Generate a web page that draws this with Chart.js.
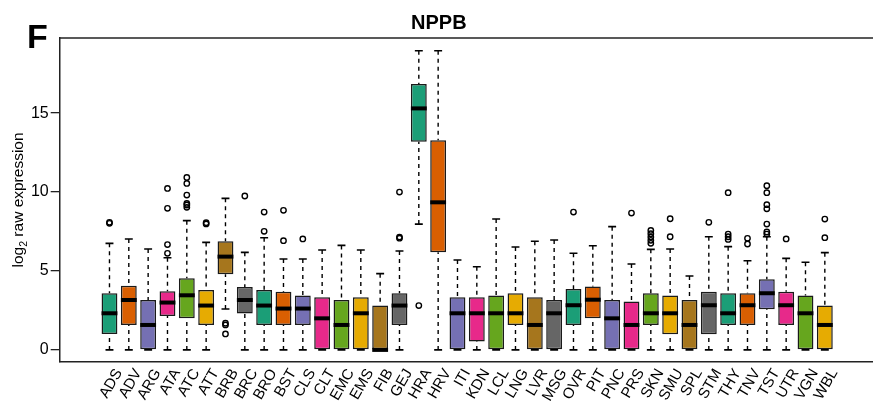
<!DOCTYPE html>
<html>
<head>
<meta charset="utf-8">
<title>NPPB</title>
<script src="https://cdn.jsdelivr.net/npm/chart.js@4.4.0/dist/chart.umd.min.js"></script>
<style>
  html, body { margin: 0; padding: 0; background: #fff; overflow: hidden; }
  #wrap { width: 880px; height: 404px; }
</style>
</head>
<body>
<div id="wrap"><canvas id="nppb" width="880" height="404"></canvas></div>
<script>
// tissue codes, one box each
var categories = ['ADS', 'ADV', 'ARG', 'ATA', 'ATC', 'ATT', 'BRB', 'BRC', 'BRO', 'BST',
    'CLS', 'CLT', 'EMC', 'EMS', 'FIB', 'GEJ', 'HRA', 'HRV', 'ITI', 'KDN',
    'LCL', 'LNG', 'LVR', 'MSG', 'OVR', 'PIT', 'PNC', 'PRS', 'SKN', 'SMU',
    'SPL', 'STM', 'THY', 'TNV', 'TST', 'UTR', 'VGN', 'WBL'];

// box stats (log2 raw expression)
var whiskerHigh = [6.75, 7.03, 6.39, 5.84, 8.19, 6.81, 9.6, 6.18, 7.11, 5.76,
    5.76, 6.33, 6.62, 6.33, 4.83, 6.27, 18.95, 18.95, 5.7, 5.27,
    8.29, 6.52, 6.88, 6.96, 6.12, 6.6, 7.81, 5.44, 6.37, 6.39,
    4.68, 7.17, 6.54, 5.65, 7.17, 5.8, 5.55, 6.16];
var upperQ = [3.59, 4.07, 3.16, 3.71, 4.54, 3.8, 6.88, 3.99, 3.8, 3.69,
    3.44, 3.33, 3.16, 3.33, 2.81, 3.59, 16.85, 13.29, 3.33, 3.33,
    3.44, 3.59, 3.33, 3.16, 3.86, 4.01, 3.16, 3.06, 3.59, 3.44,
    3.16, 3.69, 3.59, 3.59, 4.47, 3.69, 3.44, 2.81];
var medians = [2.32, 3.16, 1.58, 3.0, 3.46, 2.81, 5.91, 3.16, 2.81, 2.62,
    2.62, 2.0, 1.58, 2.32, 0, 2.81, 15.3, 9.35, 2.32, 2.32,
    2.32, 2.32, 1.58, 2.32, 2.83, 3.18, 2.0, 1.58, 2.32, 2.32,
    1.58, 2.83, 2.32, 2.83, 3.59, 2.83, 2.32, 1.58];
var lowerQ = [1.01, 1.58, 0, 2.15, 2.0, 1.58, 4.79, 2.3, 1.58, 1.58,
    1.58, 0, 0, 0, 0, 1.58, 13.19, 6.18, 0, 0.53,
    0, 1.58, 0, 0, 1.58, 2.0, 0, 0, 1.58, 0.99,
    0, 0.99, 1.58, 1.58, 2.57, 1.58, 0, 0];
var whiskerLow = [0, 0, 0, 0, 0, 0, 2.59, 0, 0, 0,
    0, 0, 0, 0, 0, 0, 7.97, 0, 0, 0,
    0, 0, 0, 0, 0, 0, 0, 0, 0, 0,
    0, 0, 0, 0, 0, 0, 0, 0];
var outliers = [[8.02, 8.08], [], [], [10.23, 8.97, 6.67, 6.12], [10.93, 10.55, 9.81, 9.28, 9.18, 9.03],
    [7.98, 8.06], [1.69, 1.58, 1.01], [9.75], [8.73, 7.51], [8.84, 6.92],
    [7.03], [], [], [], [],
    [10.0, 7.15, 7.08], [2.81], [], [], [],
    [], [], [], [], [8.73],
    [], [], [8.67], [7.57, 7.36, 7.15, 6.94, 6.75], [8.31, 7.17],
    [], [8.08], [9.96, 7.34, 7.17, 7.0], [7.07, 6.71], [10.4, 9.96, 9.2, 8.94, 7.97, 7.47, 7.34],
    [7.03], [], [8.29, 7.11]];

var yTicks = [0, 5, 10, 15];

// Dark2 palette, cycled over the tissues
var palette = ['#1B9E77', '#D95F02', '#7570B3', '#E7298A', '#66A61E', '#E6AB02', '#A6761D', '#666666'];

var fontFamily = '"Liberation Sans", Arial, Helvetica, sans-serif';

var boxData = categories.map(function (c, i) {
    return { x: i + 1, y: [lowerQ[i], upperQ[i]] };
});
var boxColors = categories.map(function (c, i) { return palette[i % palette.length]; });

var outlierData = [];
outliers.forEach(function (list, i) {
    list.forEach(function (v) { outlierData.push({ x: i + 1, y: v }); });
});

// whiskers, caps and medians, placed through the chart scales
var whiskerPlugin = {
    id: 'whiskers',
    afterDatasetsDraw: function (chart) {
        var xs = chart.scales.x, ys = chart.scales.y;
        var bars = chart.getDatasetMeta(0).data;
        var ctx = chart.ctx;
        ctx.save();
        ctx.strokeStyle = '#000';
        for (var i = 0; i < categories.length; i++) {
            var x = xs.getPixelForValue(i + 1);
            var half = bars[i].width / 2;
            var yHi = ys.getPixelForValue(whiskerHigh[i]);
            var yQ3 = ys.getPixelForValue(upperQ[i]);
            var yQ1 = ys.getPixelForValue(lowerQ[i]);
            var yLo = ys.getPixelForValue(whiskerLow[i]);
            var yMed = ys.getPixelForValue(medians[i]);

            ctx.lineWidth = 1.4;
            ctx.setLineDash([4, 4]);
            ctx.beginPath();
            ctx.moveTo(x, yHi); ctx.lineTo(x, yQ3);
            ctx.moveTo(x, yLo); ctx.lineTo(x, yQ1);
            ctx.stroke();

            ctx.setLineDash([]);
            ctx.lineWidth = 1.6;
            ctx.beginPath();
            ctx.moveTo(x - half / 2, yHi); ctx.lineTo(x + half / 2, yHi);
            ctx.moveTo(x - half / 2, yLo); ctx.lineTo(x + half / 2, yLo);
            ctx.stroke();

            ctx.lineWidth = 4;
            ctx.beginPath();
            ctx.moveTo(x - half, yMed); ctx.lineTo(x + half, yMed);
            ctx.stroke();
        }
        ctx.restore();
    }
};

// top frame line, slanted tissue labels, panel letter and y axis title
var decorPlugin = {
    id: 'decor',
    afterDraw: function (chart) {
        var ctx = chart.ctx;
        var area = chart.chartArea;
        var xs = chart.scales.x;
        ctx.save();
        ctx.strokeStyle = '#222';
        ctx.lineWidth = 1.5;
        ctx.beginPath();
        ctx.moveTo(area.left, area.top);
        ctx.lineTo(area.right, area.top);
        ctx.stroke();

        ctx.fillStyle = '#000';
        ctx.font = '15px ' + fontFamily;
        ctx.textAlign = 'right';
        ctx.textBaseline = 'alphabetic';
        categories.forEach(function (c, i) {
            ctx.save();
            ctx.translate(xs.getPixelForValue(i + 1) + 13, area.bottom + 10.5);
            ctx.rotate(-60 * Math.PI / 180);
            ctx.fillText(c, 0, 0);
            ctx.restore();
        });

        ctx.font = 'bold 34px ' + fontFamily;
        ctx.textAlign = 'left';
        ctx.fillText('F', 27, 48);

        var cy = (area.top + area.bottom) / 2;
        ctx.translate(19, cy);
        ctx.rotate(-Math.PI / 2);
        var big = '15.5px ' + fontFamily, small = '10.5px ' + fontFamily;
        ctx.font = big;
        var w1 = ctx.measureText('log').width;
        var w3 = ctx.measureText(' raw expression').width;
        ctx.font = small;
        var w2 = ctx.measureText('2').width;
        var start = -(w1 + w2 + w3) / 2;
        ctx.textBaseline = 'middle';
        ctx.font = big;
        ctx.fillText('log', start, 0);
        ctx.font = small;
        ctx.fillText('2', start + w1, 5);
        ctx.font = big;
        ctx.fillText(' raw expression', start + w1 + w2, 0);
        ctx.restore();
    }
};

var chart = new Chart(document.getElementById('nppb'), {
    type: 'bar',
    data: {
        datasets: [{
            type: 'bar',
            data: boxData,
            backgroundColor: boxColors,
            borderColor: '#1a1a1a',
            borderWidth: 1.5,
            borderSkipped: false,
            barPercentage: 0.82,
            categoryPercentage: 1
        }, {
            type: 'scatter',
            data: outlierData,
            pointStyle: 'circle',
            pointRadius: 2.7,
            pointBorderWidth: 1.4,
            pointBorderColor: '#000',
            pointBackgroundColor: 'rgba(0,0,0,0)'
        }]
    },
    options: {
        responsive: false,
        animation: false,
        devicePixelRatio: 1,
        events: [],
        layout: { padding: { left: 0, right: 2.3, top: 0, bottom: 0 } },
        plugins: {
            legend: { display: false },
            tooltip: { enabled: false },
            title: {
                display: true,
                text: 'NPPB',
                color: '#000',
                font: { family: fontFamily, size: 20, weight: 'bold' },
                padding: { top: 11, bottom: 3 }
            }
        },
        scales: {
            x: {
                type: 'linear',
                min: -1.02,
                max: 40.02,
                afterBuildTicks: function (scale) {
                    scale.ticks = categories.map(function (c, i) { return { value: i + 1 }; });
                },
                afterFit: function (scale) { scale.height = 42.1; },
                ticks: { display: false },
                grid: { display: false },
                border: { display: true, color: '#222', width: 1.5 }
            },
            y: {
                min: -0.76,
                max: 19.76,
                afterBuildTicks: function (scale) {
                    scale.ticks = yTicks.map(function (v) { return { value: v }; });
                },
                afterFit: function (scale) { scale.width = 59.7; },
                ticks: {
                    padding: 2,
                    color: '#000',
                    font: { family: fontFamily, size: 16 }
                },
                grid: { drawOnChartArea: false, drawTicks: true, tickLength: 9, color: '#222', lineWidth: 1.3 },
                border: { display: true, color: '#222', width: 1.5 }
            }
        }
    },
    plugins: [whiskerPlugin, decorPlugin]
});
</script>
</body>
</html>
